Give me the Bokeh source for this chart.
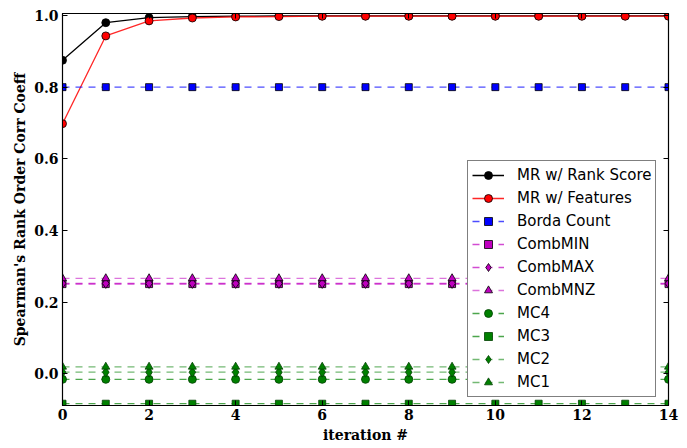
from bokeh.plotting import figure
from bokeh.models import (Range1d, LinearAxis, FixedTicker, Legend, LegendItem,
                          NumeralTickFormatter, CustomJSTickFormatter)
from bokeh.embed import file_html
from bokeh.resources import INLINE

iterations = list(range(15))
mr_rank = [0.875, 0.980, 0.994, 0.997, 0.998, 0.999, 0.999, 0.999, 0.999, 0.999, 0.999, 0.999, 0.999, 0.999, 0.999]
mr_feat = [0.698, 0.943, 0.985, 0.993, 0.996, 0.997, 0.998, 0.998, 0.998, 0.998, 0.998, 0.998, 0.998, 0.998, 0.998]
borda = [0.800] * 15
comb_min = [0.250] * 15
comb_max = [0.252] * 15
comb_mnz = [0.266] * 15
mc4 = [-0.016] * 15
mc3 = [-0.084] * 15
mc2 = [0.004] * 15
mc1 = [0.019] * 15

x_ticks = [0, 2, 4, 6, 8, 10, 12, 14]
y_ticks = [0.0, 0.2, 0.4, 0.6, 0.8, 1.0]

series = [
    ("MR w/ Rank Score", mr_rank, "#000000", "circle", "solid", 1.0, 8),
    ("MR w/ Features", mr_feat, "#ff0000", "circle", "solid", 0.85, 8),
    ("Borda Count", borda, "#0000ff", "square", "7 6", 0.7, 7),
    ("CombMIN", comb_min, "#bf00bf", "square", "7 6", 0.7, 7),
    ("CombMAX", comb_max, "#bf00bf", "diamond", "7 6", 0.7, 10),
    ("CombMNZ", comb_mnz, "#bf00bf", "triangle", "7 6", 0.55, 8),
    ("MC4", mc4, "#008000", "circle", "7 6", 0.7, 8),
    ("MC3", mc3, "#008000", "square", "7 6", 0.7, 7),
    ("MC2", mc2, "#008000", "diamond", "7 6", 0.55, 10),
    ("MC1", mc1, "#008000", "triangle", "7 6", 0.55, 8),
]

p = figure(frame_width=606, frame_height=392, output_backend="svg", toolbar_location=None,
           x_range=Range1d(0, 14), y_range=Range1d(-0.089, 1.0056),
           min_border_left=62, min_border_right=19, min_border_top=13, min_border_bottom=43)
p.grid.visible = False
p.outline_line_color = "#000000"
p.outline_line_width = 1.2

serif_font = "DejaVu Serif"
for ax in (p.xaxis[0], p.yaxis[0]):
    ax.major_label_text_font = serif_font
    ax.major_label_text_font_style = "bold"
    ax.major_label_text_font_size = "14px"
    ax.major_label_text_color = "#000000"
    ax.axis_label_text_font = serif_font
    ax.axis_label_text_font_style = "bold"
    ax.axis_label_text_font_size = "14px"
    ax.axis_label_text_color = "#000000"
    ax.major_tick_in = 5
    ax.major_tick_out = 0
    ax.minor_tick_line_color = None
    ax.axis_line_color = "#000000"
    ax.major_tick_line_color = "#000000"
p.xaxis[0].ticker = FixedTicker(ticks=x_ticks)
p.yaxis[0].ticker = FixedTicker(ticks=y_ticks)
p.yaxis[0].formatter = NumeralTickFormatter(format="0.0")
p.xaxis[0].axis_label = "iteration #"
p.yaxis[0].axis_label = "Spearman's Rank Order Corr Coeff"
p.xaxis[0].major_label_standoff = 3
p.xaxis[0].axis_label_standoff = 4
p.yaxis[0].major_label_standoff = 4
p.yaxis[0].axis_label_standoff = 3

blank = CustomJSTickFormatter(code="return ''")
right_ax = LinearAxis(ticker=FixedTicker(ticks=y_ticks), formatter=blank,
                      major_label_standoff=0, major_tick_in=5, major_tick_out=0,
                      minor_tick_line_color=None, axis_line_color="#000000")
top_ax = LinearAxis(ticker=FixedTicker(ticks=x_ticks), formatter=blank,
                    major_label_standoff=0, major_tick_in=5, major_tick_out=0,
                    minor_tick_line_color=None, axis_line_color="#000000")
p.add_layout(right_ax, "right")
p.add_layout(top_ax, "above")

items = []
for name, vals, color, marker, dash, lalpha, size in series:
    ln = p.line(iterations, vals, line_color=color, line_dash=dash, line_width=1.3, line_alpha=lalpha)
    sc = p.scatter(iterations, vals, marker=marker, size=size, fill_color=color,
                   line_color="#000000" if color != "#008000" else "#004000", line_width=0.8)
    items.append(LegendItem(label=name, renderers=[ln, sc]))

legend = Legend(items=items, location=(405, 8), label_text_font="DejaVu Sans",
                label_text_font_size="15px", label_text_color="#000000",
                glyph_width=32, glyph_height=20, label_height=20, spacing=3, label_standoff=13,
                padding=4, margin=0, border_line_color="#000000", border_line_width=1.2,
                background_fill_alpha=1.0)
p.add_layout(legend, "center")

open("out.html", "w").write(file_html(p, INLINE))
